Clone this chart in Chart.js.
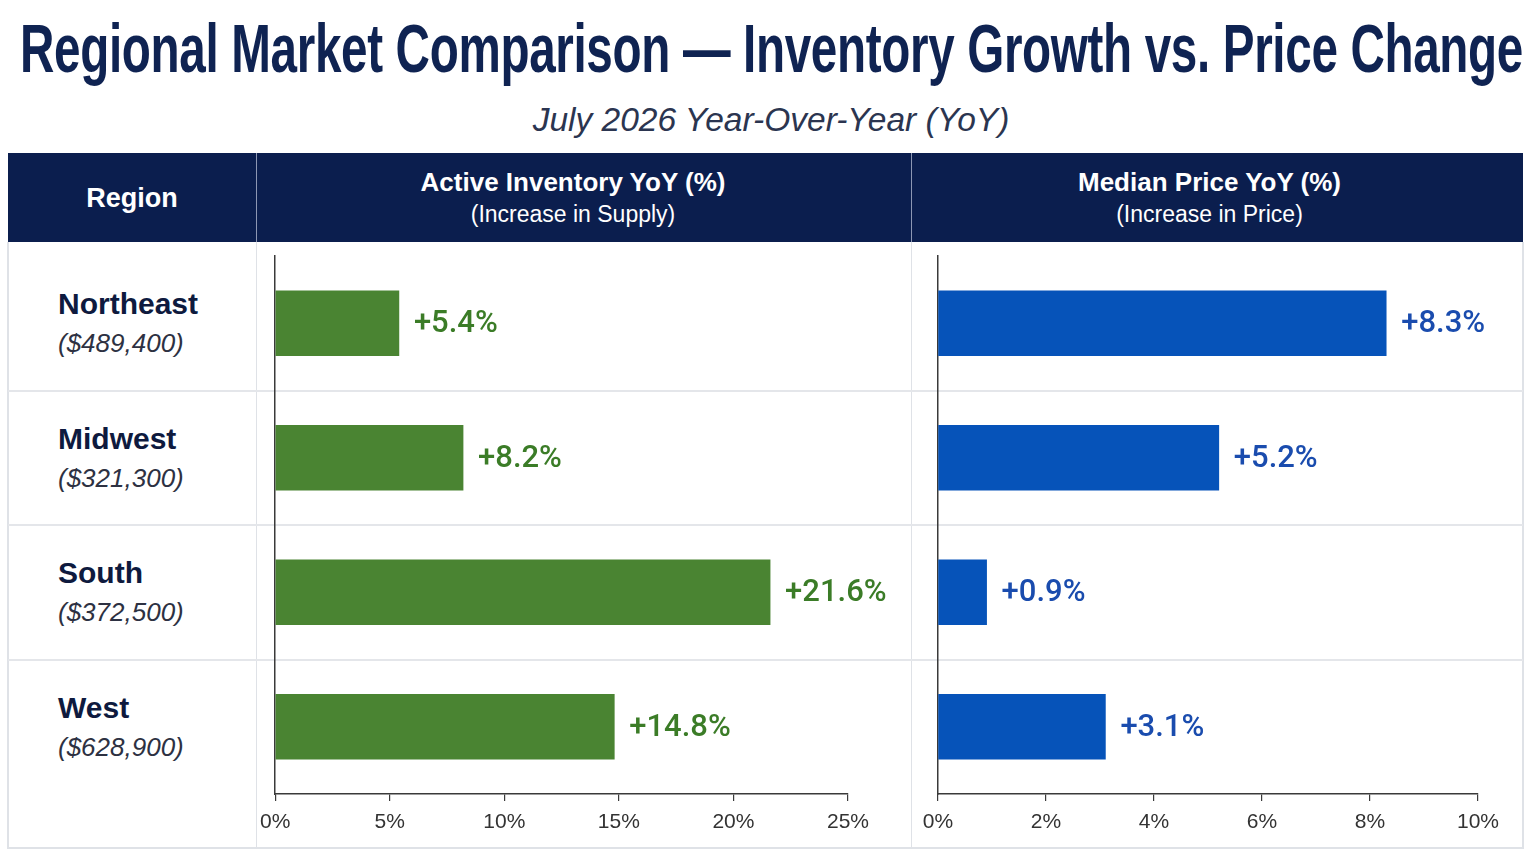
<!DOCTYPE html>
<html>
<head>
<meta charset="utf-8">
<script src="https://cdn.jsdelivr.net/npm/chart.js@4.4.0/dist/chart.umd.min.js"></script>
<style>
  html, body { margin: 0; padding: 0; background: #fff; }
  body { width: 1536px; height: 850px; position: relative; overflow: hidden; font-family: "Liberation Sans", Arial, sans-serif; }
  #title { position: absolute; left: 20px; top: 14px; white-space: nowrap; transform-origin: 0 0;
           font-family: "Liberation Sans", Arial, sans-serif; font-weight: bold;
           font-size: 68px; line-height: 68px; color: #0f2352; letter-spacing: -0.5px; }
  #subtitle { position: absolute; left: 0; top: 103px; width: 1542px; text-align: center; font-style: italic;
              font-size: 33.5px; line-height: 33px; color: #2b3550; }
  .hdr { position: absolute; top: 153px; height: 89px; background: #0b1e4e; color: #fff; display: flex;
         flex-direction: column; justify-content: center; align-items: center; text-align: center; box-sizing: border-box; }
  .hdr b { font-size: 26px; line-height: 32px; }
  .hdr i { font-style: normal; font-size: 23px; line-height: 32px; }
  .frame { position: absolute; background: #dfe2e7; }
  .sep { position: absolute; left: 8px; width: 1515px; height: 2px; background: #e4e6ea; }
  .region { position: absolute; left: 58px; width: 190px; color: #0e1a3e; }
  .region .nm { position: absolute; left: 0; top: -38px; font-weight: bold; font-size: 30px; line-height: 38px; white-space: nowrap; }
  .region .px { position: absolute; left: 0; top: 3px; font-style: italic; font-size: 26px; line-height: 34px; color: #2d3142; white-space: nowrap; }
  canvas { position: absolute; }
</style>
</head>
<body>
<div id="title">Regional Market Comparison — Inventory Growth vs. Price Change</div>
<div id="subtitle">July 2026 Year-Over-Year (YoY)</div>

<div class="hdr" style="left:8px;width:248px;"><b style="font-size:27px">Region</b></div>
<div class="hdr" style="left:257px;width:654px;padding-right:22px;"><b>Active Inventory YoY (%)</b><i>(Increase in Supply)</i></div>
<div class="hdr" style="left:912px;width:611px;padding-right:16px;"><b>Median Price YoY (%)</b><i>(Increase in Price)</i></div>
<div class="frame" style="left:256px;top:153px;width:1px;height:89px;background:#8d97b3"></div>
<div class="frame" style="left:911px;top:153px;width:1px;height:89px;background:#8d97b3"></div>

<div class="frame" style="left:7px;top:242px;width:2px;height:607px"></div>
<div class="frame" style="left:1522px;top:242px;width:2px;height:607px"></div>
<div class="frame" style="left:7px;top:847px;width:1517px;height:2px"></div>
<div class="frame" style="left:256px;top:242px;width:1px;height:606px"></div>
<div class="frame" style="left:911px;top:242px;width:1px;height:606px"></div>

<div id="rows"></div>

<canvas id="invChart" width="660" height="606" style="left:251px;top:242px;width:660px;height:606px"></canvas>
<canvas id="priceChart" width="611" height="606" style="left:912px;top:242px;width:611px;height:606px"></canvas>

<script>
// --- dados ---
const regions = ['Northeast', 'Midwest', 'South', 'West'];
const medianPrices = ['($489,400)', '($321,300)', '($372,500)', '($628,900)'];
const inventoryYoY = [5.4, 8.2, 21.6, 14.8];   // Active Inventory YoY (%)
const priceYoY = [8.3, 5.2, 0.9, 3.1];         // Median Price YoY (%)
const inventoryTicks = [0, 5, 10, 15, 20, 25];
const priceTicks = [0, 2, 4, 6, 8, 10];

// rótulos "+x.x%" ao fim de cada barra
const valueLabels = {
    id: 'valueLabels',
    afterDatasetsDraw(chart, args, opts) {
        const c = chart.ctx;
        const meta = chart.getDatasetMeta(0);
        c.save();
        c.font = '500 31px Roboto, "Liberation Sans", sans-serif';
        c.fillStyle = opts.color;
        c.textAlign = 'left';
        c.textBaseline = 'middle';
        meta.data.forEach((bar, i) => {
            const v = chart.data.datasets[0].data[i];
            c.fillText('+' + v.toFixed(1) + '%', bar.x + 15, bar.y + 1);
        });
        c.restore();
    }
};

function makeChart(id, values, ticks, barColor, labelColor, padLeft, padRight) {
    return new Chart(document.getElementById(id), {
        type: 'bar',
        data: {
            labels: regions,
            datasets: [{
                data: values,
                backgroundColor: barColor,
                borderWidth: 0,
                barThickness: 65
            }]
        },
        options: {
            indexAxis: 'y',
            responsive: false,
            animation: false,
            layout: { padding: { left: padLeft, right: padRight, top: 14, bottom: 0 } },
            scales: {
                x: {
                    min: ticks[0],
                    max: ticks[ticks.length - 1],
                    afterBuildTicks: s => { s.ticks = ticks.map(v => ({ value: v })); },
                    afterFit: s => { s.height = 54; },
                    grid: { display: true, drawOnChartArea: false, drawTicks: true, tickLength: 7, color: '#3a3a3a', lineWidth: 1.2 },
                    border: { display: true, color: '#3a3a3a', width: 1.5 },
                    ticks: {
                        padding: 9,
                        color: '#333',
                        font: { family: '"Liberation Sans", Arial, sans-serif', size: 21 },
                        callback: v => v + '%'
                    }
                },
                y: {
                    afterFit: s => { s.width = 0; },
                    grid: { display: false },
                    border: { display: true, color: '#3a3a3a', width: 1.5 },
                    ticks: { display: false }
                }
            },
            plugins: {
                legend: { display: false },
                tooltip: { enabled: false },
                valueLabels: { color: labelColor }
            }
        },
        plugins: [valueLabels]
    });
}

const invChart = makeChart('invChart', inventoryYoY, inventoryTicks, '#4a8432', '#3b7c27', 0, 63);
const priceChart = makeChart('priceChart', priceYoY, priceTicks, '#0653b9', '#1a4cae', 26, 45);

// linhas da tabela + nomes das regiões, alinhados à escala do gráfico
const rowsEl = document.getElementById('rows');
const yScale = invChart.scales.y;
const top0 = 242;
regions.forEach((name, i) => {
    const cy = top0 + yScale.getPixelForValue(i);
    const d = document.createElement('div');
    d.className = 'region';
    d.style.top = cy + 'px';
    d.innerHTML = '<div class="nm">' + name + '</div><div class="px">' + medianPrices[i] + '</div>';
    rowsEl.appendChild(d);
    if (i < regions.length - 1) {
        const s = document.createElement('div');
        s.className = 'sep';
        s.style.top = (top0 + (yScale.getPixelForValue(i) + yScale.getPixelForValue(i + 1)) / 2 - 1) + 'px';
        rowsEl.appendChild(s);
    }
});

// título estreito: ajusta a largura ao da referência (x 20..1523)
function fitTitle() {
    const t = document.getElementById('title');
    t.style.transform = 'none';
    const w = t.getBoundingClientRect().width;
    t.style.transform = 'scaleX(' + (1503 / w) + ')';
}
fitTitle();
if (document.fonts && document.fonts.ready) document.fonts.ready.then(fitTitle);
</script>
</body>
</html>
